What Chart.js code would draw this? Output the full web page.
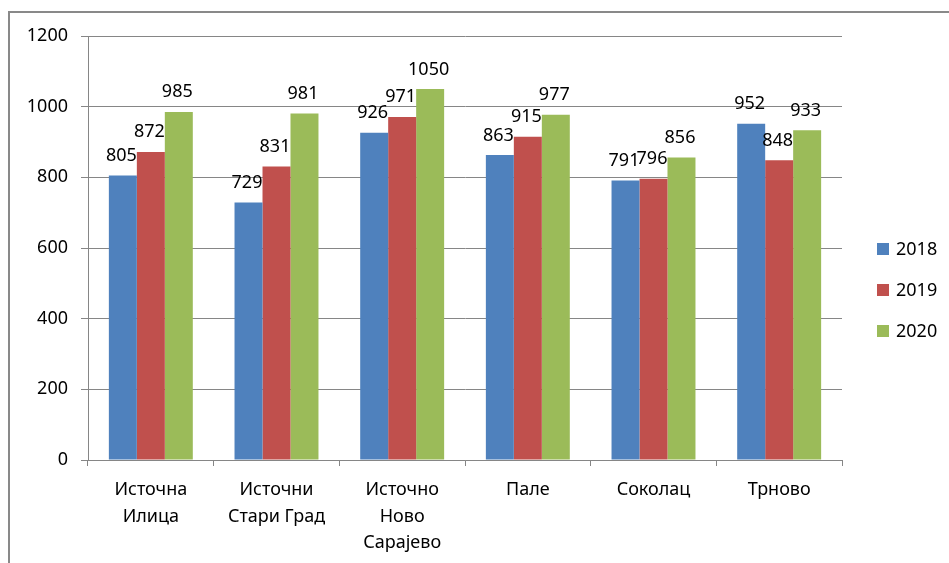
<!DOCTYPE html>
<html>
<head>
<meta charset="utf-8">
<script src="https://cdn.jsdelivr.net/npm/chart.js@4/dist/chart.umd.min.js"></script>
<style>
html,body{margin:0;padding:0;background:#fff;}
canvas{display:block;}
</style>
</head>
<body>
<canvas id="c" width="949" height="563"></canvas>
<script>
const categories = [["Источна","Илица"],["Источни","Стари Град"],["Источно","Ново","Сарајево"],"Пале","Соколац","Трново"];
const seriesNames = ["2018","2019","2020"];
const values2018 = [805,729,926,863,791,952];
const values2019 = [872,831,971,915,796,848];
const values2020 = [985,981,1050,977,856,933];
const yTicks = [0,200,400,600,800,1000,1200];
const colors = ["#4F81BD","#C0504D","#9BBB59"];

const FONT = "'Noto Sans', 'Liberation Sans', sans-serif";
const GRID = "#868686";

const framePlugin = {
  id: 'frame',
  beforeDraw(chart){
    const ctx = chart.ctx;
    ctx.save();
    ctx.fillStyle = '#fff';
    ctx.fillRect(0,0,chart.width,chart.height);
    ctx.fillStyle = '#898989';
    ctx.fillRect(8,11,chart.width-8,2);
    ctx.fillRect(8,11,2,chart.height-11);
    ctx.restore();
  }
};

const labelPlugin = {
  id: 'valueLabels',
  afterDatasetsDraw(chart){
    const ctx = chart.ctx;
    ctx.save();
    ctx.font = "18px " + FONT;
    ctx.fillStyle = '#000';
    ctx.textAlign = 'center';
    ctx.textBaseline = 'alphabetic';
    chart.data.datasets.forEach((ds, i) => {
      const meta = chart.getDatasetMeta(i);
      meta.data.forEach((bar, j) => {
        ctx.fillText(String(ds.data[j]), bar.x - 1.5, bar.y - 14.5);
      });
    });
    ctx.restore();
  }
};

const legendPlugin = {
  id: 'sideLegend',
  afterDraw(chart){
    const ctx = chart.ctx;
    ctx.save();
    ctx.font = "18px " + FONT;
    ctx.textBaseline = 'middle';
    ctx.textAlign = 'left';
    chart.data.datasets.forEach((ds, i) => {
      const cy = 249 + i*41;
      ctx.fillStyle = ds.backgroundColor;
      ctx.fillRect(877, cy-6, 12, 12);
      ctx.fillStyle = '#000';
      ctx.fillText(ds.label, 896, cy+1);
    });
    ctx.restore();
  }
};

new Chart(document.getElementById('c'), {
  type: 'bar',
  data: {
    labels: categories,
    datasets: [
      {label: seriesNames[0], data: values2018, backgroundColor: colors[0]},
      {label: seriesNames[1], data: values2019, backgroundColor: colors[1]},
      {label: seriesNames[2], data: values2020, backgroundColor: colors[2]}
    ]
  },
  options: {
    responsive: false,
    animation: false,
    devicePixelRatio: 1,
    layout: {padding: {left: 10, top: 36, right: 107, bottom: 0}},
    datasets: {bar: {categoryPercentage: 0.668, barPercentage: 1.0, borderWidth: 0}},
    plugins: {legend: {display: false}, tooltip: {enabled: false}},
    scales: {
      x: {
        grid: {display: true, drawOnChartArea: false, drawTicks: true, tickLength: 6, color: GRID, offset: true},
        border: {display: true, color: GRID, width: 1},
        ticks: {font: {family: FONT, size: 18, lineHeight: 1.47}, color: '#000', padding: 11, maxRotation: 0, autoSkip: false},
        afterFit(scale){ scale.height = 103; }
      },
      y: {
        min: 0, max: 1200,
        afterBuildTicks(scale){ scale.ticks = yTicks.map(v => ({value: v})); },
        grid: {color: GRID, tickLength: 7, drawTicks: true},
        border: {display: true, color: GRID, width: 1},
        ticks: {font: {family: FONT, size: 18}, color: '#000', padding: 13, callback: v => String(v)},
        afterFit(scale){ scale.width = 78; }
      }
    }
  },
  plugins: [framePlugin, labelPlugin, legendPlugin]
});
</script>
</body>
</html>
